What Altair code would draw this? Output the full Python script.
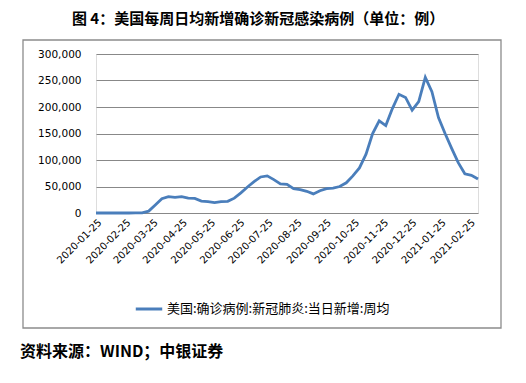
import altair as alt
import pandas as pd

# ---- data (weekly, Saturdays, 2020-01-25 .. 2021-03-06) ----
start_date = "2020-01-25"
n_weeks = 59
weekly_avg_cases = [
    0, 0, 0, 0, 0, 0, 50, 300, 3500, 15000,
    27000, 31000, 29500, 31000, 28000, 27500, 22500, 21500, 19500, 21500,
    22000, 28000, 38000, 49000, 59000, 68000, 70000, 63000, 55000, 54000,
    46000, 44000, 41000, 36000, 42000, 46000, 47000, 50000, 57000, 70000,
    85000, 111000, 150000, 174000, 165000, 197000, 224000, 218000, 194000, 210000,
    256000, 229000, 180000, 150000, 122000, 95000, 74000, 71000, 64000,
]
series_name = "美国:确诊病例:新冠肺炎:当日新增:周均"
tick_dates = [
    "2020-01-25", "2020-02-25", "2020-03-25", "2020-04-25", "2020-05-25",
    "2020-06-25", "2020-07-25", "2020-08-25", "2020-09-25", "2020-10-25",
    "2020-11-25", "2020-12-25", "2021-01-25", "2021-02-25",
]
y_ticks = [0, 50000, 100000, 150000, 200000, 250000, 300000]
title_text = "图 4：美国每周日均新增确诊新冠感染病例（单位：例）"
source_text = "资料来源：WIND；中银证券"

dates = pd.date_range(start_date, periods=n_weeks, freq="7D")
df = pd.DataFrame({
    "date": dates.strftime("%Y-%m-%d"),
    "value": weekly_avg_cases,
    "series": series_name,
})

def ms(d):
    return int(pd.Timestamp(d, tz="UTC").value // 10**6)

tick_ms = [ms(d) for d in tick_dates]
x_domain = [ms(dates[0]), ms(dates[-1])]

W, H = 382, 159
BLUE = "#4A7EBB"
GRID = "#888888"

line = alt.Chart(df).mark_line(strokeWidth=2.8).encode(
    x=alt.X("date:T",
            scale=alt.Scale(type="utc", domain=x_domain, nice=False),
            axis=alt.Axis(values=tick_ms, title=None, grid=False, ticks=False, domain=False,
                          labelExpr="utcFormat(datum.value, '%Y-%m-%d')",
                          labelAngle=-45, labelFont="DejaVu Sans", labelFontSize=10,
                          labelColor="#000000", labelPadding=4, labelOverlap=False,
                          labelBound=False, labelFlush=False)),
    y=alt.Y("value:Q",
            scale=alt.Scale(domain=[0, 300000], nice=False),
            axis=alt.Axis(values=y_ticks, title=None, grid=True, gridColor=GRID, gridWidth=1,
                          ticks=False, domain=False, format=",d",
                          labelFont="DejaVu Sans", labelFontSize=10.5, labelColor="#000000",
                          labelPadding=15)),
    color=alt.Color("series:N",
                    scale=alt.Scale(domain=[series_name], range=[BLUE]),
                    legend=alt.Legend(title=None, orient="none", legendX=38, legendY=240,
                                      symbolType="stroke", symbolStrokeWidth=3, symbolSize=700,
                                      labelFont="Noto Sans CJK SC", labelFontSize=13,
                                      labelColor="#000000", labelOffset=3, padding=0,
                                      labelLimit=0)),
)

box_df = pd.DataFrame({"k": [1]})
box = alt.Chart(box_df).mark_rect(fill=None, stroke="#8c8c8c", strokeWidth=1.3).encode(
    x=alt.value(-73), x2=alt.value(405), y=alt.value(-14), y2=alt.value(274)
)

title_df = pd.DataFrame({"t": [title_text]})
title = alt.Chart(title_df).mark_text(
    font="Noto Sans CJK SC", fontSize=15, fontWeight="bold", align="center",
    baseline="middle", color="#000000"
).encode(text="t:N", x=alt.value(162), y=alt.value(-35))

src_df = pd.DataFrame({"t": [source_text]})
src = alt.Chart(src_df).mark_text(
    font="Noto Sans CJK SC", fontSize=16, fontWeight="bold", align="left",
    baseline="middle", color="#000000"
).encode(text="t:N", x=alt.value(-76), y=alt.value(298))

chart = alt.layer(box, line, title, src).properties(
    width=W, height=H,
    autosize=alt.AutoSizeParams(type="none"),
    padding={"left": 88, "top": 46, "right": 40, "bottom": 155},
).configure_view(stroke=None).configure(background="#ffffff")

chart.save("out.html", embed_options={"renderer": "svg", "actions": False})
